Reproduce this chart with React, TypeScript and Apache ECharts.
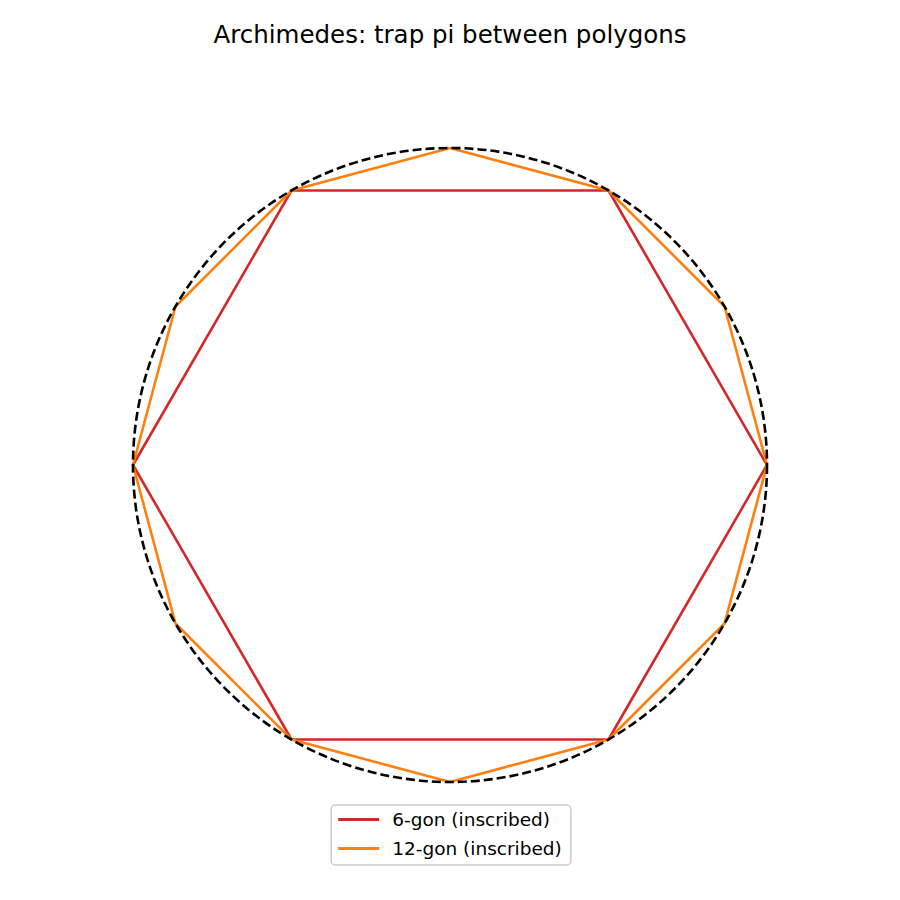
import * as echarts from 'echarts';
import { useEffect, useRef } from 'react';

// vertices (unit circle, closed by repeating the first point)
const hexagon: number[][] = [
    [1, 0], [0.5, 0.866], [-0.5, 0.866], [-1, 0], [-0.5, -0.866], [0.5, -0.866], [1, 0]
];
const dodecagon: number[][] = [
    [1, 0], [0.866, 0.5], [0.5, 0.866], [0, 1], [-0.5, 0.866], [-0.866, 0.5],
    [-1, 0], [-0.866, -0.5], [-0.5, -0.866], [0, -1], [0.5, -0.866], [0.866, -0.5], [1, 0]
];
// circle: center x, center y, radius
const circle: number[][] = [[0, 0, 1]];

const seriesNames = ['6-gon (inscribed)', '12-gon (inscribed)'];
const titleText = 'Archimedes: trap pi between polygons';

const App = () => {
    const divRef = useRef<HTMLDivElement>(null);

    useEffect(() => {
        document.body.style.margin = '0';
        const myChart = echarts.init(divRef.current!, undefined, { renderer: 'svg' });

        myChart.setOption({
            animation: false,
            backgroundColor: '#ffffff',
            textStyle: { fontFamily: 'DejaVu Sans' },
            title: {
                text: titleText,
                left: 'center',
                top: 17,
                textStyle: { fontSize: 24.5, fontWeight: 'normal', color: '#000', fontFamily: 'DejaVu Sans' }
            },
            grid: { left: 133, right: 133, top: 148, bottom: 118 },
            xAxis: { type: 'value', min: -1, max: 1, show: false },
            yAxis: { type: 'value', min: -1, max: 1, show: false },
            legend: {
                data: seriesNames,
                orient: 'vertical',
                left: 'center',
                top: 805,
                icon: 'rect',
                itemWidth: 41,
                itemHeight: 3,
                itemGap: 10,
                padding: [5, 9, 7, 7],
                borderColor: '#cccccc',
                borderWidth: 1.5,
                borderRadius: 4,
                textStyle: { fontSize: 18.5, color: '#000', fontFamily: 'DejaVu Sans', padding: [0, 0, 0, 8] }
            },
            series: [
                {
                    name: seriesNames[0],
                    type: 'line',
                    data: hexagon,
                    symbol: 'none',
                    color: '#d62728',
                    lineStyle: { width: 2.6, color: '#d62728' },
                    z: 2
                },
                {
                    name: seriesNames[1],
                    type: 'line',
                    data: dodecagon,
                    symbol: 'none',
                    color: '#ff7f0e',
                    lineStyle: { width: 2.6, color: '#ff7f0e' },
                    z: 3
                },
                {
                    name: 'circle',
                    type: 'custom',
                    data: circle,
                    z: 4,
                    renderItem: function (params: any, api: any) {
                        const c = api.coord([api.value(0), api.value(1)]);
                        const r = api.size([api.value(2), 0])[0];
                        return {
                            type: 'circle',
                            shape: { cx: c[0], cy: c[1], r: r },
                            style: { fill: 'none', stroke: '#000000', lineWidth: 2.6, lineDash: [9, 4] }
                        };
                    }
                }
            ]
        });

        return () => {
            myChart.dispose();
        };
    }, []);

    return (
        <div style={{ width: '900px', height: '900px' }} ref={divRef}></div>
    );
};

export default App;
